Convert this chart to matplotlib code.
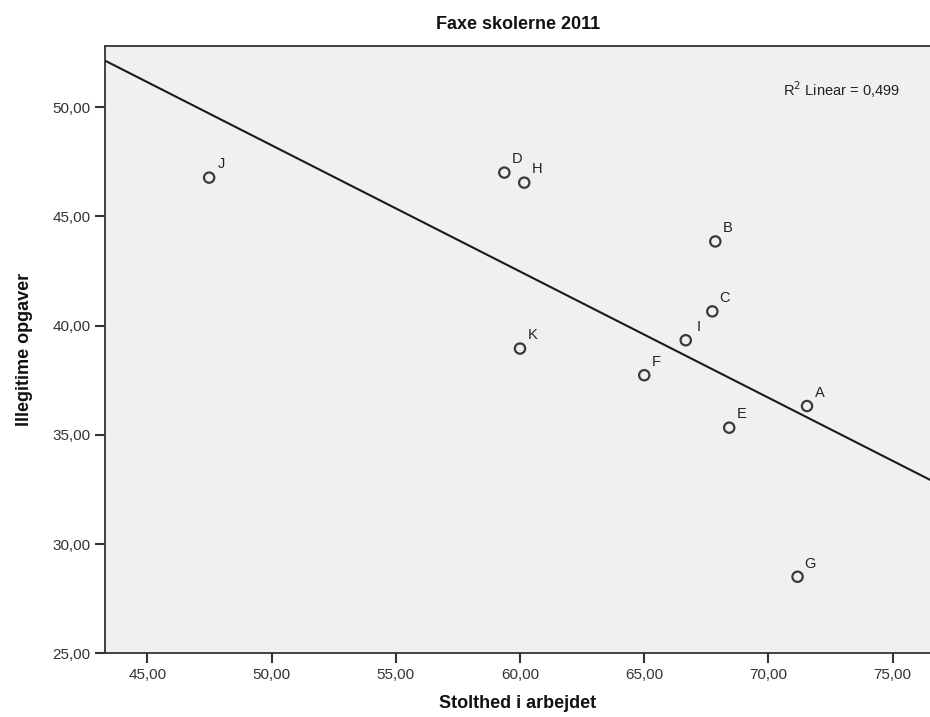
import matplotlib.pyplot as plt
import numpy as np

plt.rcParams['font.family'] = ['Liberation Sans', 'DejaVu Sans']

# Skoler og deres gennemsnit
skoler = ['A', 'B', 'C', 'D', 'E', 'F', 'G', 'H', 'I', 'J', 'K']
stolthed = [71.55, 67.86, 67.74, 59.37, 68.42, 65.00, 71.17, 60.17, 66.67, 47.49, 60.00]
illegitime = [36.32, 43.85, 40.65, 47.00, 35.33, 37.73, 28.51, 46.54, 39.33, 46.77, 38.95]

x_ticks = [45, 50, 55, 60, 65, 70, 75]
y_ticks = [25, 30, 35, 40, 45, 50]

fig = plt.figure(figsize=(9.3, 7.17), dpi=100)
ax = fig.add_axes([0.1132, 0.0886, 0.8868, 0.8472])
ax.set_facecolor('#f0f0f0')

# Lineær regression
x = np.array(stolthed)
y = np.array(illegitime)
haeldning, skaering = np.polyfit(x, y, 1)
xlim = (43.31, 76.5)
xs = np.array(xlim)
ax.plot(xs, haeldning * xs + skaering, color='#1a1a1a', linewidth=1.5, zorder=2)

ax.scatter(x, y, s=55, facecolors='none', edgecolors='#3a3a3a', linewidths=1.6, zorder=3)
for navn, xi, yi in zip(skoler, x, y):
    ax.annotate(navn, (xi, yi), xytext=(9, 9.5), textcoords='offset points',
                ha='center', va='center', fontsize=10.5, color='#222222')

ax.text(0.9636, 0.9276, 'R$^2$ Linear = 0,499', transform=ax.transAxes,
        ha='right', va='center', fontsize=10.5, color='#222222')

ax.set_xlim(*xlim)
ax.set_ylim(25, 52.79)
ax.set_xticks(x_ticks)
ax.set_yticks(y_ticks)
ax.set_xticklabels([f'{v:.2f}'.replace('.', ',') for v in x_ticks])
ax.set_yticklabels([f'{v:.2f}'.replace('.', ',') for v in y_ticks])
ax.tick_params(direction='out', length=7, width=1.5, colors='#333333',
               labelsize=11, labelcolor='#333333')

for side in ['left', 'bottom', 'top']:
    ax.spines[side].set_color('#333333')
    ax.spines[side].set_linewidth(1.3)
ax.spines['right'].set_visible(False)

ax.set_title('Faxe skolerne 2011', fontsize=13, fontweight='bold', pad=12, color='#111111')
ax.set_xlabel('Stolthed i arbejdet', fontsize=13, fontweight='bold', labelpad=9, color='#111111')
ax.set_ylabel('Illegitime opgaver', fontsize=13, fontweight='bold', labelpad=14, color='#111111')

fig.savefig('out.png', dpi=100)
